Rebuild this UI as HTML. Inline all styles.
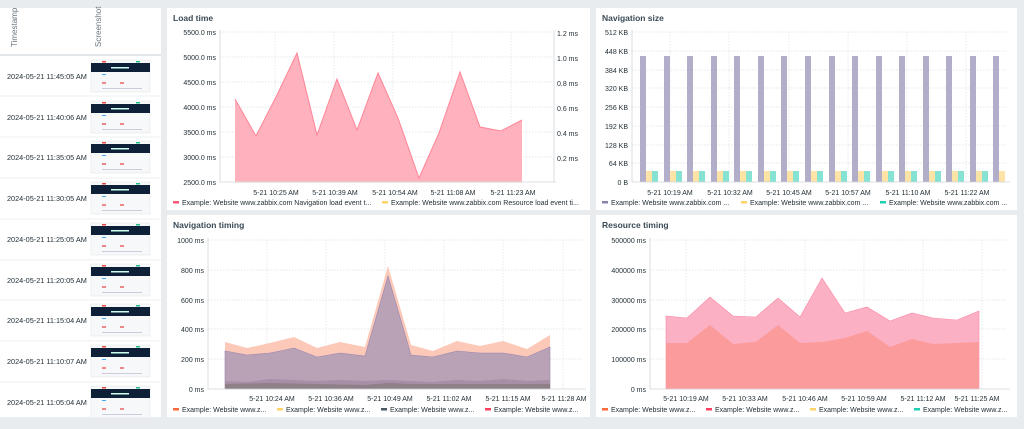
<!DOCTYPE html>
<html><head><meta charset="utf-8"><style>
body{margin:0;background:#e9ecef;font-family:"Liberation Sans",sans-serif;}
svg{display:block}
text{font-family:"Liberation Sans",sans-serif;}
</style></head><body>
<svg width="1024" height="429" viewBox="0 0 1024 429" xmlns="http://www.w3.org/2000/svg">
<rect width="1024" height="429" fill="#e9ecef"/>
<rect x="0" y="8" width="161" height="409" fill="#fff"/>
<line x1="0" y1="55" x2="161" y2="55" stroke="#e4e7ea" stroke-width="2"/>
<text transform="translate(17,47) rotate(-90)" font-size="8" fill="#6b7580">Timestamp</text>
<text transform="translate(101,47) rotate(-90)" font-size="8" fill="#6b7580">Screenshot</text>
<g font-size="7.3" fill="#1f2c33">
<text x="7" y="79">2024-05-21 11:45:05 AM</text>
<text x="7" y="120">2024-05-21 11:40:06 AM</text>
<text x="7" y="160">2024-05-21 11:35:05 AM</text>
<text x="7" y="201">2024-05-21 11:30:05 AM</text>
<text x="7" y="242">2024-05-21 11:25:05 AM</text>
<text x="7" y="283">2024-05-21 11:20:05 AM</text>
<text x="7" y="323">2024-05-21 11:15:04 AM</text>
<text x="7" y="364">2024-05-21 11:10:07 AM</text>
<text x="7" y="405">2024-05-21 11:05:04 AM</text>
</g>
<g stroke="#eef0f2">
<line x1="0" y1="96" x2="161" y2="96"/><line x1="0" y1="137" x2="161" y2="137"/><line x1="0" y1="178" x2="161" y2="178"/><line x1="0" y1="219" x2="161" y2="219"/><line x1="0" y1="260" x2="161" y2="260"/><line x1="0" y1="300" x2="161" y2="300"/><line x1="0" y1="341" x2="161" y2="341"/><line x1="0" y1="382" x2="161" y2="382"/>
</g>
<defs><g id="th"><rect x="0" y="0" width="59" height="32" fill="#f7f8f9" stroke="#e0e3e6" stroke-width="0.5"/><rect x="0" y="3" width="59" height="9" fill="#0d2038"/><rect x="20" y="7" width="18" height="1.5" fill="#cfe"/><rect x="11" y="1" width="4" height="1.5" fill="#e44"/><rect x="45" y="1" width="4" height="1.5" fill="#2b8"/><rect x="11" y="14" width="4" height="1" fill="#4ae"/><rect x="11" y="22" width="4" height="2" fill="#e88"/><rect x="29" y="22" width="4" height="2" fill="#e88"/><rect x="11" y="28" width="40" height="1" fill="#ccd"/></g></defs>
<use href="#th" x="91" y="60"/><use href="#th" x="91" y="101"/><use href="#th" x="91" y="141"/><use href="#th" x="91" y="182"/><use href="#th" x="91" y="223"/><use href="#th" x="91" y="264"/><use href="#th" x="91" y="304"/><use href="#th" x="91" y="345"/><use href="#th" x="91" y="386"/>

<rect x="167" y="8" width="423" height="202" fill="#fff"/>
<rect x="596" y="8" width="421" height="202" fill="#fff"/>
<rect x="167" y="215" width="423" height="202" fill="#fff"/>
<rect x="596" y="215" width="421" height="202" fill="#fff"/>
<g font-size="8.5" font-weight="bold" fill="#3a4a55">
<text x="173" y="21">Load time</text><text x="602" y="21">Navigation size</text>
<text x="173" y="228">Navigation timing</text><text x="602" y="228">Resource timing</text>
</g>

<g stroke="#dde1e4" stroke-dasharray="1.5,1.5" stroke-width="0.7">
<line x1="220" y1="32" x2="553" y2="32"/><line x1="220" y1="57" x2="553" y2="57"/><line x1="220" y1="82" x2="553" y2="82"/><line x1="220" y1="107" x2="553" y2="107"/><line x1="220" y1="132" x2="553" y2="132"/><line x1="220" y1="157" x2="553" y2="157"/>
<line x1="275" y1="32" x2="275" y2="182"/><line x1="334" y1="32" x2="334" y2="182"/><line x1="393" y1="32" x2="393" y2="182"/><line x1="452" y1="32" x2="452" y2="182"/><line x1="511" y1="32" x2="511" y2="182"/>
</g>
<polygon points="235,182 235,99 256,136 277,95 297,53 317,135 337,79 357,130 378,73 398,118 419,178 439,133 460,72 480,127 501,131 522,120 522,182" fill="#ffb2bd"/>
<polyline points="235,99 256,136 277,95 297,53 317,135 337,79 357,130 378,73 398,118 419,178 439,133 460,72 480,127 501,131 522,120" fill="none" stroke="#ff8497" stroke-width="1"/>
<line x1="235" y1="182" x2="522" y2="182" stroke="#fcd9a0"/>
<g stroke="#cfd4d8" stroke-width="0.8"><line x1="220" y1="30" x2="220" y2="182"/><line x1="554" y1="30" x2="554" y2="182"/><line x1="220" y1="182" x2="556" y2="182"/></g>
<g font-size="7" fill="#1f2c33" text-anchor="end">
<text x="216" y="35">5500.0 ms</text><text x="216" y="60">5000.0 ms</text><text x="216" y="85">4500.0 ms</text><text x="216" y="110">4000.0 ms</text><text x="216" y="135">3500.0 ms</text><text x="216" y="160">3000.0 ms</text><text x="216" y="185">2500.0 ms</text>
</g>
<g font-size="7" fill="#1f2c33">
<text x="557" y="36">1.2 ms</text><text x="557" y="61">1.0 ms</text><text x="557" y="86">0.8 ms</text><text x="557" y="111">0.6 ms</text><text x="557" y="136">0.4 ms</text><text x="557" y="161">0.2 ms</text>
</g>
<g font-size="7" fill="#1f2c33" text-anchor="middle">
<text x="276" y="195">5-21 10:25 AM</text><text x="335" y="195">5-21 10:39 AM</text><text x="395" y="195">5-21 10:54 AM</text><text x="453" y="195">5-21 11:08 AM</text><text x="513" y="195">5-21 11:23 AM</text>
</g>
<g font-size="7" fill="#1f2c33">
<rect x="173" y="201" width="6" height="2.5" fill="#ff5a73"/><text x="182" y="205">Example: Website www.zabbix.com Navigation load event t...</text>
<rect x="382" y="201" width="6" height="2.5" fill="#fdd36a"/><text x="391" y="205">Example: Website www.zabbix.com Resource load event ti...</text>
</g>

<g stroke="#dde1e4" stroke-dasharray="1.5,1.5" stroke-width="0.7">
<line x1="632" y1="32" x2="1007" y2="32"/><line x1="632" y1="51" x2="1007" y2="51"/><line x1="632" y1="70" x2="1007" y2="70"/><line x1="632" y1="88" x2="1007" y2="88"/><line x1="632" y1="107" x2="1007" y2="107"/><line x1="632" y1="126" x2="1007" y2="126"/><line x1="632" y1="145" x2="1007" y2="145"/><line x1="632" y1="163" x2="1007" y2="163"/>
<line x1="670" y1="32" x2="670" y2="182"/><line x1="729" y1="32" x2="729" y2="182"/><line x1="789" y1="32" x2="789" y2="182"/><line x1="848" y1="32" x2="848" y2="182"/><line x1="907" y1="32" x2="907" y2="182"/><line x1="966" y1="32" x2="966" y2="182"/>
</g>
<g fill="#b2aec9"><rect x="640" y="56" width="6" height="126"/><rect x="664" y="56" width="6" height="126"/><rect x="687" y="56" width="6" height="126"/><rect x="711" y="56" width="6" height="126"/><rect x="734" y="56" width="6" height="126"/><rect x="758" y="56" width="6" height="126"/><rect x="781" y="56" width="6" height="126"/><rect x="805" y="56" width="6" height="126"/><rect x="829" y="56" width="6" height="126"/><rect x="852" y="56" width="6" height="126"/><rect x="876" y="56" width="6" height="126"/><rect x="899" y="56" width="6" height="126"/><rect x="923" y="56" width="6" height="126"/><rect x="946" y="56" width="6" height="126"/><rect x="970" y="56" width="6" height="126"/><rect x="993" y="56" width="6" height="126"/></g>
<g fill="#fde3a6"><rect x="646" y="171" width="6" height="11"/><rect x="670" y="171" width="6" height="11"/><rect x="693" y="171" width="6" height="11"/><rect x="717" y="171" width="6" height="11"/><rect x="740" y="171" width="6" height="11"/><rect x="764" y="171" width="6" height="11"/><rect x="787" y="171" width="6" height="11"/><rect x="811" y="171" width="6" height="11"/><rect x="835" y="171" width="6" height="11"/><rect x="858" y="171" width="6" height="11"/><rect x="882" y="171" width="6" height="11"/><rect x="905" y="171" width="6" height="11"/><rect x="929" y="171" width="6" height="11"/><rect x="952" y="171" width="6" height="11"/><rect x="976" y="171" width="6" height="11"/><rect x="999" y="171" width="6" height="11"/></g>
<g fill="#86e2d3"><rect x="652" y="171" width="6" height="11"/><rect x="676" y="171" width="6" height="11"/><rect x="699" y="171" width="6" height="11"/><rect x="723" y="171" width="6" height="11"/><rect x="746" y="171" width="6" height="11"/><rect x="770" y="171" width="6" height="11"/><rect x="793" y="171" width="6" height="11"/><rect x="817" y="171" width="6" height="11"/><rect x="841" y="171" width="6" height="11"/><rect x="864" y="171" width="6" height="11"/><rect x="888" y="171" width="6" height="11"/><rect x="911" y="171" width="6" height="11"/><rect x="935" y="171" width="6" height="11"/><rect x="958" y="171" width="6" height="11"/><rect x="982" y="171" width="6" height="11"/></g>
<g stroke="#cfd4d8" stroke-width="0.8"><line x1="632" y1="30" x2="632" y2="182"/><line x1="632" y1="182" x2="1010" y2="182"/></g>
<g font-size="7" fill="#1f2c33" text-anchor="end">
<text x="628" y="35">512 KB</text><text x="628" y="54">448 KB</text><text x="628" y="73">384 KB</text><text x="628" y="91">320 KB</text><text x="628" y="110">256 KB</text><text x="628" y="129">192 KB</text><text x="628" y="148">128 KB</text><text x="628" y="166">64 KB</text><text x="628" y="185">0 B</text>
</g>
<g font-size="7" fill="#1f2c33" text-anchor="middle">
<text x="670" y="195">5-21 10:19 AM</text><text x="730" y="195">5-21 10:32 AM</text><text x="789" y="195">5-21 10:45 AM</text><text x="848" y="195">5-21 10:57 AM</text><text x="908" y="195">5-21 11:10 AM</text><text x="967" y="195">5-21 11:22 AM</text>
</g>
<g font-size="7" fill="#1f2c33">
<rect x="602" y="201" width="6" height="2.5" fill="#8a84a8"/><text x="611" y="205">Example: Website www.zabbix.com ...</text>
<rect x="741" y="201" width="6" height="2.5" fill="#fdd36a"/><text x="750" y="205">Example: Website www.zabbix.com ...</text>
<rect x="880" y="201" width="6" height="2.5" fill="#1ecfb0"/><text x="889" y="205">Example: Website www.zabbix.com ...</text>
</g>

<g stroke="#dde1e4" stroke-dasharray="1.5,1.5" stroke-width="0.7">
<line x1="208" y1="240" x2="583" y2="240"/><line x1="208" y1="270" x2="583" y2="270"/><line x1="208" y1="300" x2="583" y2="300"/><line x1="208" y1="329" x2="583" y2="329"/><line x1="208" y1="359" x2="583" y2="359"/>
<line x1="267" y1="240" x2="267" y2="389"/><line x1="326" y1="240" x2="326" y2="389"/><line x1="385" y1="240" x2="385" y2="389"/><line x1="444" y1="240" x2="444" y2="389"/><line x1="503" y1="240" x2="503" y2="389"/><line x1="563" y1="240" x2="563" y2="389"/>
</g>
<polygon points="225,389 225,342 247,348 270,343 294,337 317,348 340,342 365,347 388,266 411,345 433,351 457,341 480,346 503,341 527,349 550,335 550,389" fill="#fcc8b8"/>
<polygon points="225,389 225,351 247,355 270,353 294,348 317,357 340,353 365,356 388,276 411,355 433,357 457,351 480,353 503,353 527,357 550,347 550,389" fill="#b9a2b6" stroke="#9a86b0" stroke-width="0.6"/>
<polygon points="225,389 225,381 247,382 270,379 294,380 317,381 340,380 365,381 388,380 411,381 433,382 457,380 480,381 503,379 527,381 550,380 550,389" fill="#a78fa8"/>
<polygon points="225,389 225,384 270,383 317,384 365,385 388,383 411,384 457,384 503,384 550,384 550,389" fill="#8f7f87"/>
<g stroke="#cfd4d8" stroke-width="0.8"><line x1="208" y1="238" x2="208" y2="389"/><line x1="208" y1="389" x2="586" y2="389"/></g>
<g font-size="7" fill="#1f2c33" text-anchor="end">
<text x="204" y="243">1000 ms</text><text x="204" y="273">800 ms</text><text x="204" y="303">600 ms</text><text x="204" y="332">400 ms</text><text x="204" y="362">200 ms</text><text x="204" y="392">0 ms</text>
</g>
<g font-size="7" fill="#1f2c33" text-anchor="middle">
<text x="272" y="401">5-21 10:24 AM</text><text x="331" y="401">5-21 10:36 AM</text><text x="390" y="401">5-21 10:49 AM</text><text x="449" y="401">5-21 11:02 AM</text><text x="508" y="401">5-21 11:15 AM</text><text x="564" y="401">5-21 11:28 AM</text>
</g>
<g font-size="7" fill="#1f2c33">
<rect x="173" y="408" width="6" height="2.5" fill="#fb6a3c"/><text x="182" y="412">Example: Website www.z...</text>
<rect x="277" y="408" width="6" height="2.5" fill="#fdd36a"/><text x="286" y="412">Example: Website www.z...</text>
<rect x="381" y="408" width="6" height="2.5" fill="#4a5a65"/><text x="390" y="412">Example: Website www.z...</text>
<rect x="485" y="408" width="6" height="2.5" fill="#ff3f62"/><text x="494" y="412">Example: Website www.z...</text>
</g>

<g stroke="#dde1e4" stroke-dasharray="1.5,1.5" stroke-width="0.7">
<line x1="650" y1="240" x2="1007" y2="240"/><line x1="650" y1="270" x2="1007" y2="270"/><line x1="650" y1="300" x2="1007" y2="300"/><line x1="650" y1="329" x2="1007" y2="329"/><line x1="650" y1="359" x2="1007" y2="359"/>
<line x1="686" y1="240" x2="686" y2="389"/><line x1="745" y1="240" x2="745" y2="389"/><line x1="805" y1="240" x2="805" y2="389"/><line x1="864" y1="240" x2="864" y2="389"/><line x1="923" y1="240" x2="923" y2="389"/><line x1="982" y1="240" x2="982" y2="389"/>
</g>
<polygon points="666,389 666,316 687,318 710,297 733,316 756,317 778,298 800,317 822,278 845,313 867,307 890,321 912,313 933,318 957,320 979,311 979,389" fill="#fcb0c3" stroke="#f98aa6" stroke-width="0.6"/>
<polygon points="666,389 666,343 687,343 710,325 733,344 756,342 778,325 800,343 822,342 845,338 867,331 890,347 912,339 933,344 957,343 979,342 979,389" fill="#fb9b9b"/>
<g stroke="#cfd4d8" stroke-width="0.8"><line x1="650" y1="238" x2="650" y2="389"/><line x1="650" y1="389" x2="1010" y2="389"/></g>
<g font-size="7" fill="#1f2c33" text-anchor="end">
<text x="646" y="243">500000 ms</text><text x="646" y="273">400000 ms</text><text x="646" y="303">300000 ms</text><text x="646" y="332">200000 ms</text><text x="646" y="362">100000 ms</text><text x="646" y="392">0 ms</text>
</g>
<g font-size="7" fill="#1f2c33" text-anchor="middle">
<text x="686" y="401">5-21 10:19 AM</text><text x="745" y="401">5-21 10:33 AM</text><text x="805" y="401">5-21 10:46 AM</text><text x="864" y="401">5-21 10:59 AM</text><text x="923" y="401">5-21 11:12 AM</text><text x="977" y="401">5-21 11:25 AM</text>
</g>
<g font-size="7" fill="#1f2c33">
<rect x="602" y="408" width="6" height="2.5" fill="#fb6a3c"/><text x="611" y="412">Example: Website www.z...</text>
<rect x="706" y="408" width="6" height="2.5" fill="#ff3f62"/><text x="715" y="412">Example: Website www.z...</text>
<rect x="810" y="408" width="6" height="2.5" fill="#fdd36a"/><text x="819" y="412">Example: Website www.z...</text>
<rect x="914" y="408" width="6" height="2.5" fill="#1ecfb0"/><text x="923" y="412">Example: Website www.z...</text>
</g>
</svg>
</body></html>
